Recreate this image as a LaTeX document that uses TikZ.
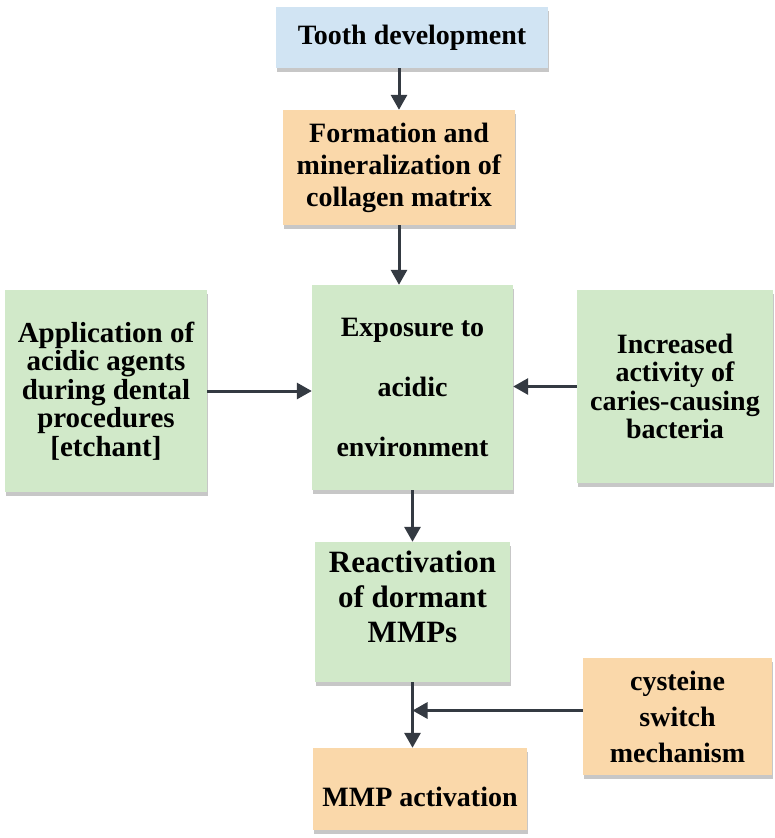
\documentclass[tikz,border=0pt]{standalone}
\usepackage{fontspec}
\setmainfont{Liberation Serif}
\usetikzlibrary{arrows.meta,shadows}
\definecolor{toothblue}{RGB}{209,228,243}
\definecolor{stepgreen}{RGB}{209,233,201}
\definecolor{steporange}{RGB}{250,216,170}
\definecolor{arrowgray}{RGB}{52,58,66}

\begin{document}
\begin{tikzpicture}[x=1pt,y=-1pt]
            \useasboundingbox (0,0) rectangle (775,838);
            \begin{scope}[every node/.style={rectangle,align=center,inner sep=4pt,
                    font=\bfseries\fontsize{28}{28}\selectfont,
                    drop shadow={shadow xshift=1pt,shadow yshift=-4pt,fill=black,opacity=0.22}}]
                \node[fill=toothblue,minimum width=272,minimum height=61] (tooth) at (412, 37.5) {Tooth development};
                \node[fill=steporange,minimum width=232,minimum height=115,font=\bfseries\fontsize{28}{32}\selectfont] (form) at (399, 167.5) {Formation and\\mineralization of\\collagen matrix};
                \node[fill=stepgreen,minimum width=201,minimum height=205,font=\bfseries\fontsize{28}{60}\selectfont] (expo) at (412.5, 387.5) {Exposure to\\acidic\\environment};
                \node[fill=stepgreen,minimum width=202,minimum height=202,font=\bfseries\fontsize{29}{28.5}\selectfont] (app) at (106, 391) {Application of\\acidic agents\\during dental\\procedures\\{[etchant]}};
                \node[fill=stepgreen,minimum width=196,minimum height=193,font=\bfseries\fontsize{28}{28.5}\selectfont] (inc) at (675, 386.5) {Increased\\activity of\\caries-causing\\bacteria};
                \node[fill=stepgreen,minimum width=195,minimum height=140,text depth=30pt,font=\bfseries\fontsize{31}{35}\selectfont] (reac) at (412.5, 612) {Reactivation\\of dormant\\MMPs};
                \node[fill=steporange,minimum width=189,minimum height=117,font=\bfseries\fontsize{28}{36}\selectfont] (cys) at (677.5, 716.5) {cysteine\\switch\\mechanism};
                \node[fill=steporange,minimum width=214,minimum height=82,text height=42pt,text depth=7pt] (mmp) at (420, 789) {MMP activation};
            \end{scope}
            \coordinate (cysout) at ([yshift=6pt]cys.west);
            \path [-{Triangle[length=15pt,width=16pt]}] (tooth.south -| form.north) edge[draw=arrowgray,line width=3pt] node {} (form.north);
            \path [-{Triangle[length=15pt,width=16pt]}] (form.south) edge[draw=arrowgray,line width=3pt] node {} (form.south |- expo.north);
            \path [-{Triangle[length=15pt,width=16pt]}] (app.east) edge[draw=arrowgray,line width=3pt] node {} (app.east -| expo.west);
            \path [-{Triangle[length=15pt,width=16pt]}] (inc.west) edge[draw=arrowgray,line width=3pt] node {} (inc.west -| expo.east);
            \path [-{Triangle[length=15pt,width=16pt]}] (expo.south) edge[draw=arrowgray,line width=3pt] node {} (reac.north);
            \path [-{Triangle[length=15pt,width=16pt]}] (reac.south) edge[draw=arrowgray,line width=3pt] node {} (reac.south |- mmp.north);
            \path [-{Triangle[length=15pt,width=16pt]}] (cysout) edge[draw=arrowgray,line width=3pt] node {} (cysout -| reac.south);
        \end{tikzpicture}
\end{document}
